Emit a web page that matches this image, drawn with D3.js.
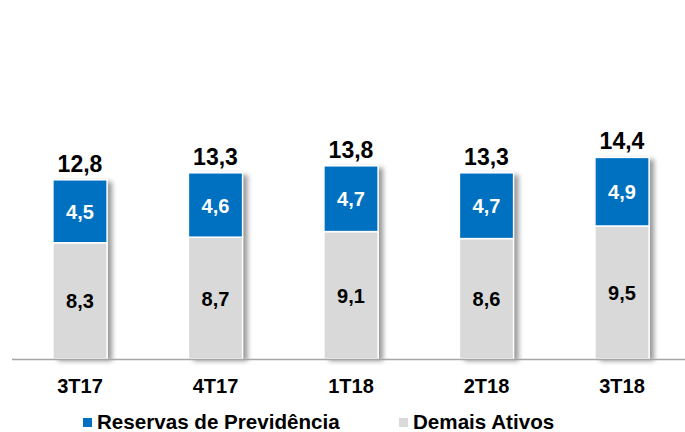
<!DOCTYPE html>
<html>
<head>
<meta charset="utf-8">
<script src="https://cdn.jsdelivr.net/npm/d3@7"></script>
<style>
  html, body { margin: 0; padding: 0; background: #fff; }
  svg { display: block; font-family: Arial, "Liberation Sans", sans-serif; }
</style>
</head>
<body>
<svg id="chart" width="685" height="432"></svg>
<script>
// Quarterly values (R$ bi)
const categories = ["3T17", "4T17", "1T18", "2T18", "3T18"];
const demaisAtivos = [8.3, 8.7, 9.1, 8.6, 9.5];
const reservasPrevidencia = [4.5, 4.6, 4.7, 4.7, 4.9];
const totals = [12.8, 13.3, 13.8, 13.3, 14.4];
const seriesNames = ["Reservas de Previdência", "Demais Ativos"];
const seriesColors = ["#0070C0", "#D9D9D9"];

const fmt = v => v.toFixed(1).replace(".", ",");

const svg = d3.select("#chart");

const x = d3.scaleBand()
  .domain(categories)
  .range([12.25, 689.75])
  .paddingInner(0.6)
  .paddingOuter(0.3);

const y = d3.scaleLinear().domain([0, 16]).range([359, 135]);

// soft shadow to the right of each bar
const defs = svg.append("defs");
const f = defs.append("filter").attr("id", "shadow")
  .attr("x", "-20%").attr("y", "-10%").attr("width", "160%").attr("height", "130%");
f.append("feGaussianBlur").attr("in", "SourceAlpha").attr("stdDeviation", 2.5);
f.append("feOffset").attr("dx", 5).attr("dy", 2).attr("result", "off");
f.append("feComponentTransfer").append("feFuncA").attr("type", "linear").attr("slope", 0.4);
const m = f.append("feMerge");
m.append("feMergeNode");
m.append("feMergeNode").attr("in", "SourceGraphic");

const rows = categories.map((c, i) => ({
  cat: c, demais: demaisAtivos[i], reservas: reservasPrevidencia[i], total: totals[i]
}));

const stack = d3.stack().keys(["demais", "reservas"]);
const stacked = stack(rows);

// shadow layer: one rect per full bar
svg.append("g").selectAll("rect.sh")
  .data(rows)
  .join("rect")
  .attr("x", d => x(d.cat))
  .attr("width", x.bandwidth())
  .attr("y", d => y(d.demais + d.reservas))
  .attr("height", d => y(0) - y(d.demais + d.reservas))
  .attr("fill", "#fff")
  .attr("filter", "url(#shadow)");

const colorFor = { demais: seriesColors[1], reservas: seriesColors[0] };

svg.append("g").selectAll("g")
  .data(stacked)
  .join("g")
  .attr("fill", d => colorFor[d.key])
  .selectAll("rect")
  .data(d => d)
  .join("rect")
  .attr("x", d => x(d.data.cat))
  .attr("width", x.bandwidth())
  .attr("y", d => y(d[1]))
  .attr("height", d => y(d[0]) - y(d[1]))
  .attr("stroke", "#fff")
  .attr("stroke-width", 1.5);

// baseline
svg.append("line")
  .attr("x1", 12).attr("x2", 685)
  .attr("y1", y(0) + 0.5).attr("y2", y(0) + 0.5)
  .attr("stroke", "#A6A6A6").attr("stroke-width", 1.5);

// segment labels
stacked.forEach(layer => {
  svg.append("g").selectAll("text")
    .data(layer)
    .join("text")
    .attr("x", d => x(d.data.cat) + x.bandwidth() / 2)
    .attr("y", d => (y(d[0]) + y(d[1])) / 2 + 7.5)
    .attr("text-anchor", "middle")
    .attr("font-size", 20)
    .attr("font-weight", "bold")
    .attr("fill", layer.key === "reservas" ? "#fff" : "#000")
    .text(d => fmt(d.data[layer.key]));
});

// totals
svg.append("g").selectAll("text")
  .data(rows)
  .join("text")
  .attr("x", d => x(d.cat) + x.bandwidth() / 2)
  .attr("y", d => y(d.demais + d.reservas) - 8)
  .attr("text-anchor", "middle")
  .attr("font-size", 23)
  .attr("font-weight", "bold")
  .attr("fill", "#000")
  .text(d => fmt(d.total));

// category axis
const xAxis = svg.append("g")
  .attr("transform", `translate(0,${y(0)})`)
  .call(d3.axisBottom(x).tickSize(0).tickPadding(0));
xAxis.select(".domain").remove();
xAxis.selectAll("text")
  .attr("y", 34)
  .attr("dy", 0)
  .attr("font-size", 20)
  .attr("font-weight", "bold")
  .attr("font-family", "Arial, 'Liberation Sans', sans-serif")
  .attr("fill", "#000");

// legend
const legendItems = [
  { name: seriesNames[0], color: seriesColors[0], x: 83 },
  { name: seriesNames[1], color: seriesColors[1], x: 399 }
];
const lg = svg.append("g").selectAll("g")
  .data(legendItems)
  .join("g")
  .attr("transform", d => `translate(${d.x},0)`);
lg.append("rect")
  .attr("x", 0).attr("y", 418).attr("width", 9).attr("height", 9)
  .attr("fill", d => d.color);
lg.append("text")
  .attr("x", 14).attr("y", 429)
  .attr("font-size", 20.6)
  .attr("font-weight", "bold")
  .attr("fill", "#000")
  .text(d => d.name);
</script>
</body>
</html>
